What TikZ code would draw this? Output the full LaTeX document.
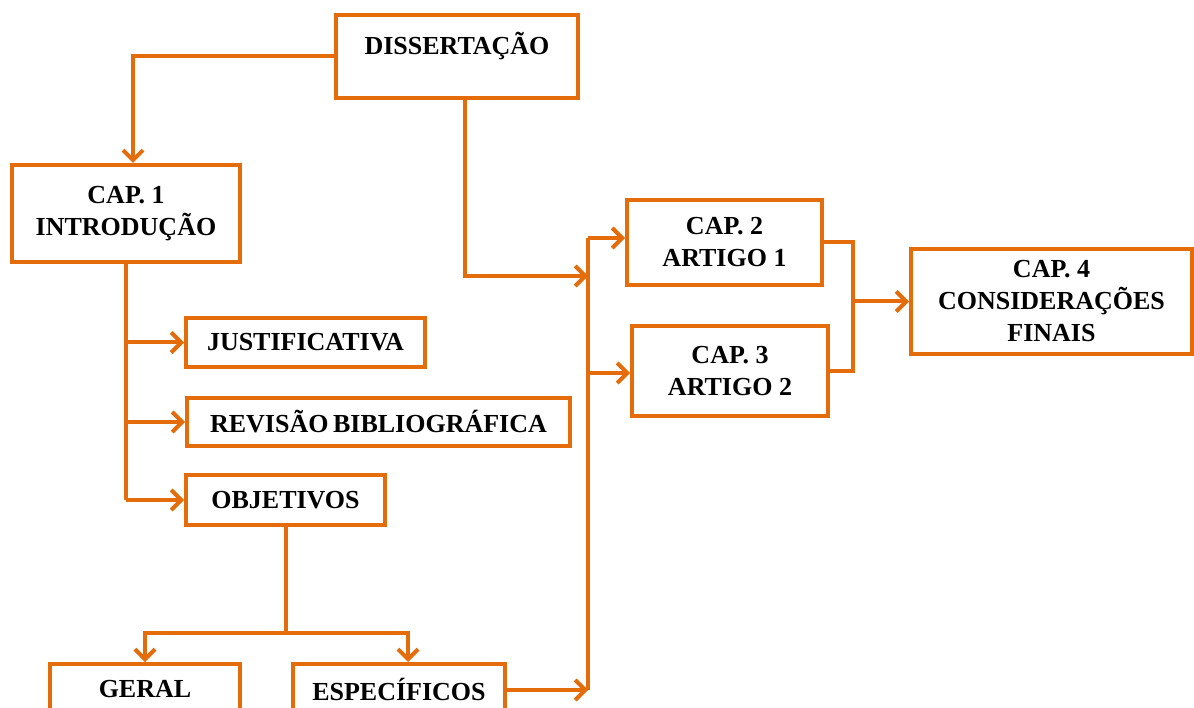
\documentclass[tikz,border=0pt]{standalone}
\usepackage{fontspec}
\setmainfont{Liberation Serif}
\usetikzlibrary{arrows.meta,calc}
\definecolor{orng}{HTML}{E46C0A}
\begin{document}
\begin{tikzpicture}[x=1pt,y=-1pt,
  box/.style={draw=orng,line width=4pt,fill=white,inner sep=0pt,align=center,
    font=\fontsize{26}{32}\selectfont\bfseries},
  conn/.style={draw=orng,line width=4pt},
  arr/.style={conn,-{Straight Barb[length=10pt,width=20pt]}}]
\clip (0,0) rectangle (1194,708);
\fill[white] (0,0) rectangle (1194,708);
% nodes
\node[box,minimum width=242pt,minimum height=83pt] (diss) at (457,56.5) {DISSERTAÇÃO\\[-6pt]\mbox{}};
\node[box,minimum width=228pt,minimum height=97pt] (cap1) at (126,213.5) {CAP. 1\\INTRODUÇÃO};
\node[box,minimum width=239pt,minimum height=49pt] (just) at (305.5,342.5) {JUSTIFICATIVA};
\node[box,minimum width=383pt,minimum height=48pt] (rev) at (378.5,422) {REVISÃO\hspace{-2pt} BIBLIOGRÁFICA};
\node[box,minimum width=199pt,minimum height=50pt] (obj) at (285.5,500) {OBJETIVOS};
\node[box,minimum width=190pt,minimum height=50pt,anchor=north] (geral) at (145,662) {GERAL};
\node[box,minimum width=212pt,minimum height=50pt,anchor=north] (espec) at (399,662) {ESPECÍFICOS};
\node[box,minimum width=195pt,minimum height=85pt] (cap2) at (724.5,242.5) {CAP. 2\\ARTIGO 1};
\node[box,minimum width=196pt,minimum height=90pt] (cap3) at (730,371) {CAP. 3\\ARTIGO 2};
\node[box,minimum width=281pt,minimum height=105pt] (cap4) at (1051.5,301.5) {CAP. 4\\CONSIDERAÇÕES\\FINAIS};
% junction coordinates
\coordinate (busTop) at (588,238);
\coordinate (busBot) at (588,690);
\coordinate (bus3) at (588,373);
\coordinate (j1) at (588,276);
\coordinate (m) at (853,301.5);
% connectors
\draw[arr] (diss.west) -| ([xshift=7pt]cap1.north);
\draw[arr] ([xshift=8pt]diss.south) |- (j1);
\draw[conn] (busTop) -- (busBot);
\draw[arr] (busTop) -- (cap2.west |- busTop);
\draw[arr] (bus3) -- (cap3.west |- bus3);
\draw[arr] (espec.east |- busBot) -- (busBot);
\draw[conn] (cap1.south) -- (cap1.south |- obj.west);
\draw[arr] (cap1.south |- just.west) -- (just.west);
\draw[arr] (cap1.south |- rev.west) -- (rev.west);
\draw[arr] (cap1.south |- obj.west) -- (obj.west);
\draw[conn] (obj.south) -- ++(0,106) coordinate (ob);
\draw[arr] (ob) -| (geral.north);
\draw[arr] (ob) -| ([xshift=9pt]espec.north);
\draw[conn] (cap2.east) -| (m);
\draw[conn] (cap3.east) -| (m);
\draw[arr] (m) -- (cap4.west);
\end{tikzpicture}
\end{document}
